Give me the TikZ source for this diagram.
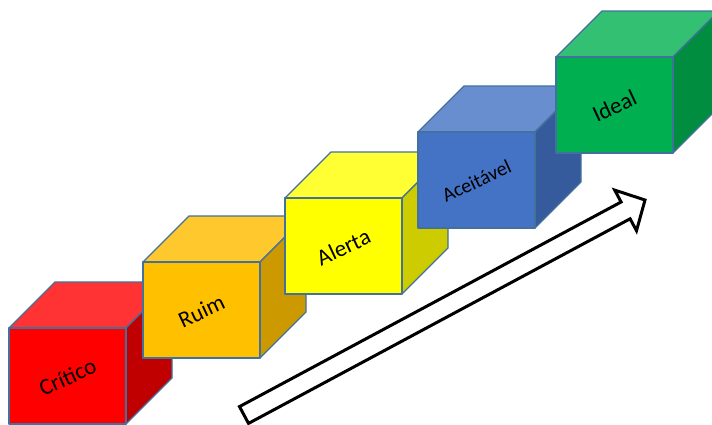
\documentclass[tikz,border=0pt]{standalone}
\usepackage{fontspec}
\setmainfont{Carlito}
\definecolor{edge}{HTML}{41719C}
\definecolor{rF}{HTML}{FF0000}\definecolor{rT}{HTML}{FF3333}\definecolor{rS}{HTML}{C00000}
\definecolor{oF}{HTML}{FFC000}\definecolor{oT}{HTML}{FFC92E}\definecolor{oS}{HTML}{CC9A00}
\definecolor{yF}{HTML}{FFFF00}\definecolor{yT}{HTML}{FFFF33}\definecolor{yS}{HTML}{CCCC00}
\definecolor{bF}{HTML}{4472C4}\definecolor{bT}{HTML}{698ED0}\definecolor{bS}{HTML}{365B9D}
\definecolor{gF}{HTML}{00B050}\definecolor{gT}{HTML}{33C073}\definecolor{gS}{HTML}{008D40}
\tikzset{
  face/.style={draw=edge, line width=1.3pt, line join=round},
  cubelabel/.style={rotate=25, text=black, inner sep=0pt},
  bigarrow/.style={draw=black, fill=white, line width=3pt, line join=miter}
}
\newcommand\mycube[8]{%
  \begin{scope}[shift={(#1,#2)}]
    \path[face, fill=#4] (0,0) -- (46,-46) -- (163,-46) -- (117,0) -- cycle;
    \path[face, fill=#5] (117,0) -- (163,-46) -- (163,50) -- (117,96) -- cycle;
    \path[face, fill=#3] (0,0) rectangle (117,96);
    \node[cubelabel, font=#8] (#6) at (58.5,49) {#7};
  \end{scope}}
\begin{document}
\begin{tikzpicture}[x=1pt,y=-1pt]
\useasboundingbox (0,0) rectangle (712,424);
\clip (0,0) rectangle (712,424);
\fill[white] (0,0) rectangle (712,424);
\mycube{9}{328}{rF}{rT}{rS}{critico}{Crítico}{\fontsize{23}{23}\selectfont}
\mycube{143}{262}{oF}{oT}{oS}{ruim}{Ruim}{\fontsize{23}{23}\selectfont}
\mycube{285}{198}{yF}{yT}{yS}{alerta}{Alerta}{\fontsize{23}{23}\selectfont}
\mycube{418}{132}{bF}{bT}{bS}{aceitavel}{Aceitável}{\fontsize{20}{20}\selectfont}
\mycube{556}{57}{gF}{gT}{gS}{ideal}{Ideal}{\fontsize{23}{23}\selectfont}
\path[bigarrow] (239.5,406.6) -- (621.1,202.0) -- (614.7,190.1) -- (645.0,200.0)
  -- (636.5,230.7) -- (630.1,218.8) -- (248.5,423.4) -- cycle;
\end{tikzpicture}
\end{document}
